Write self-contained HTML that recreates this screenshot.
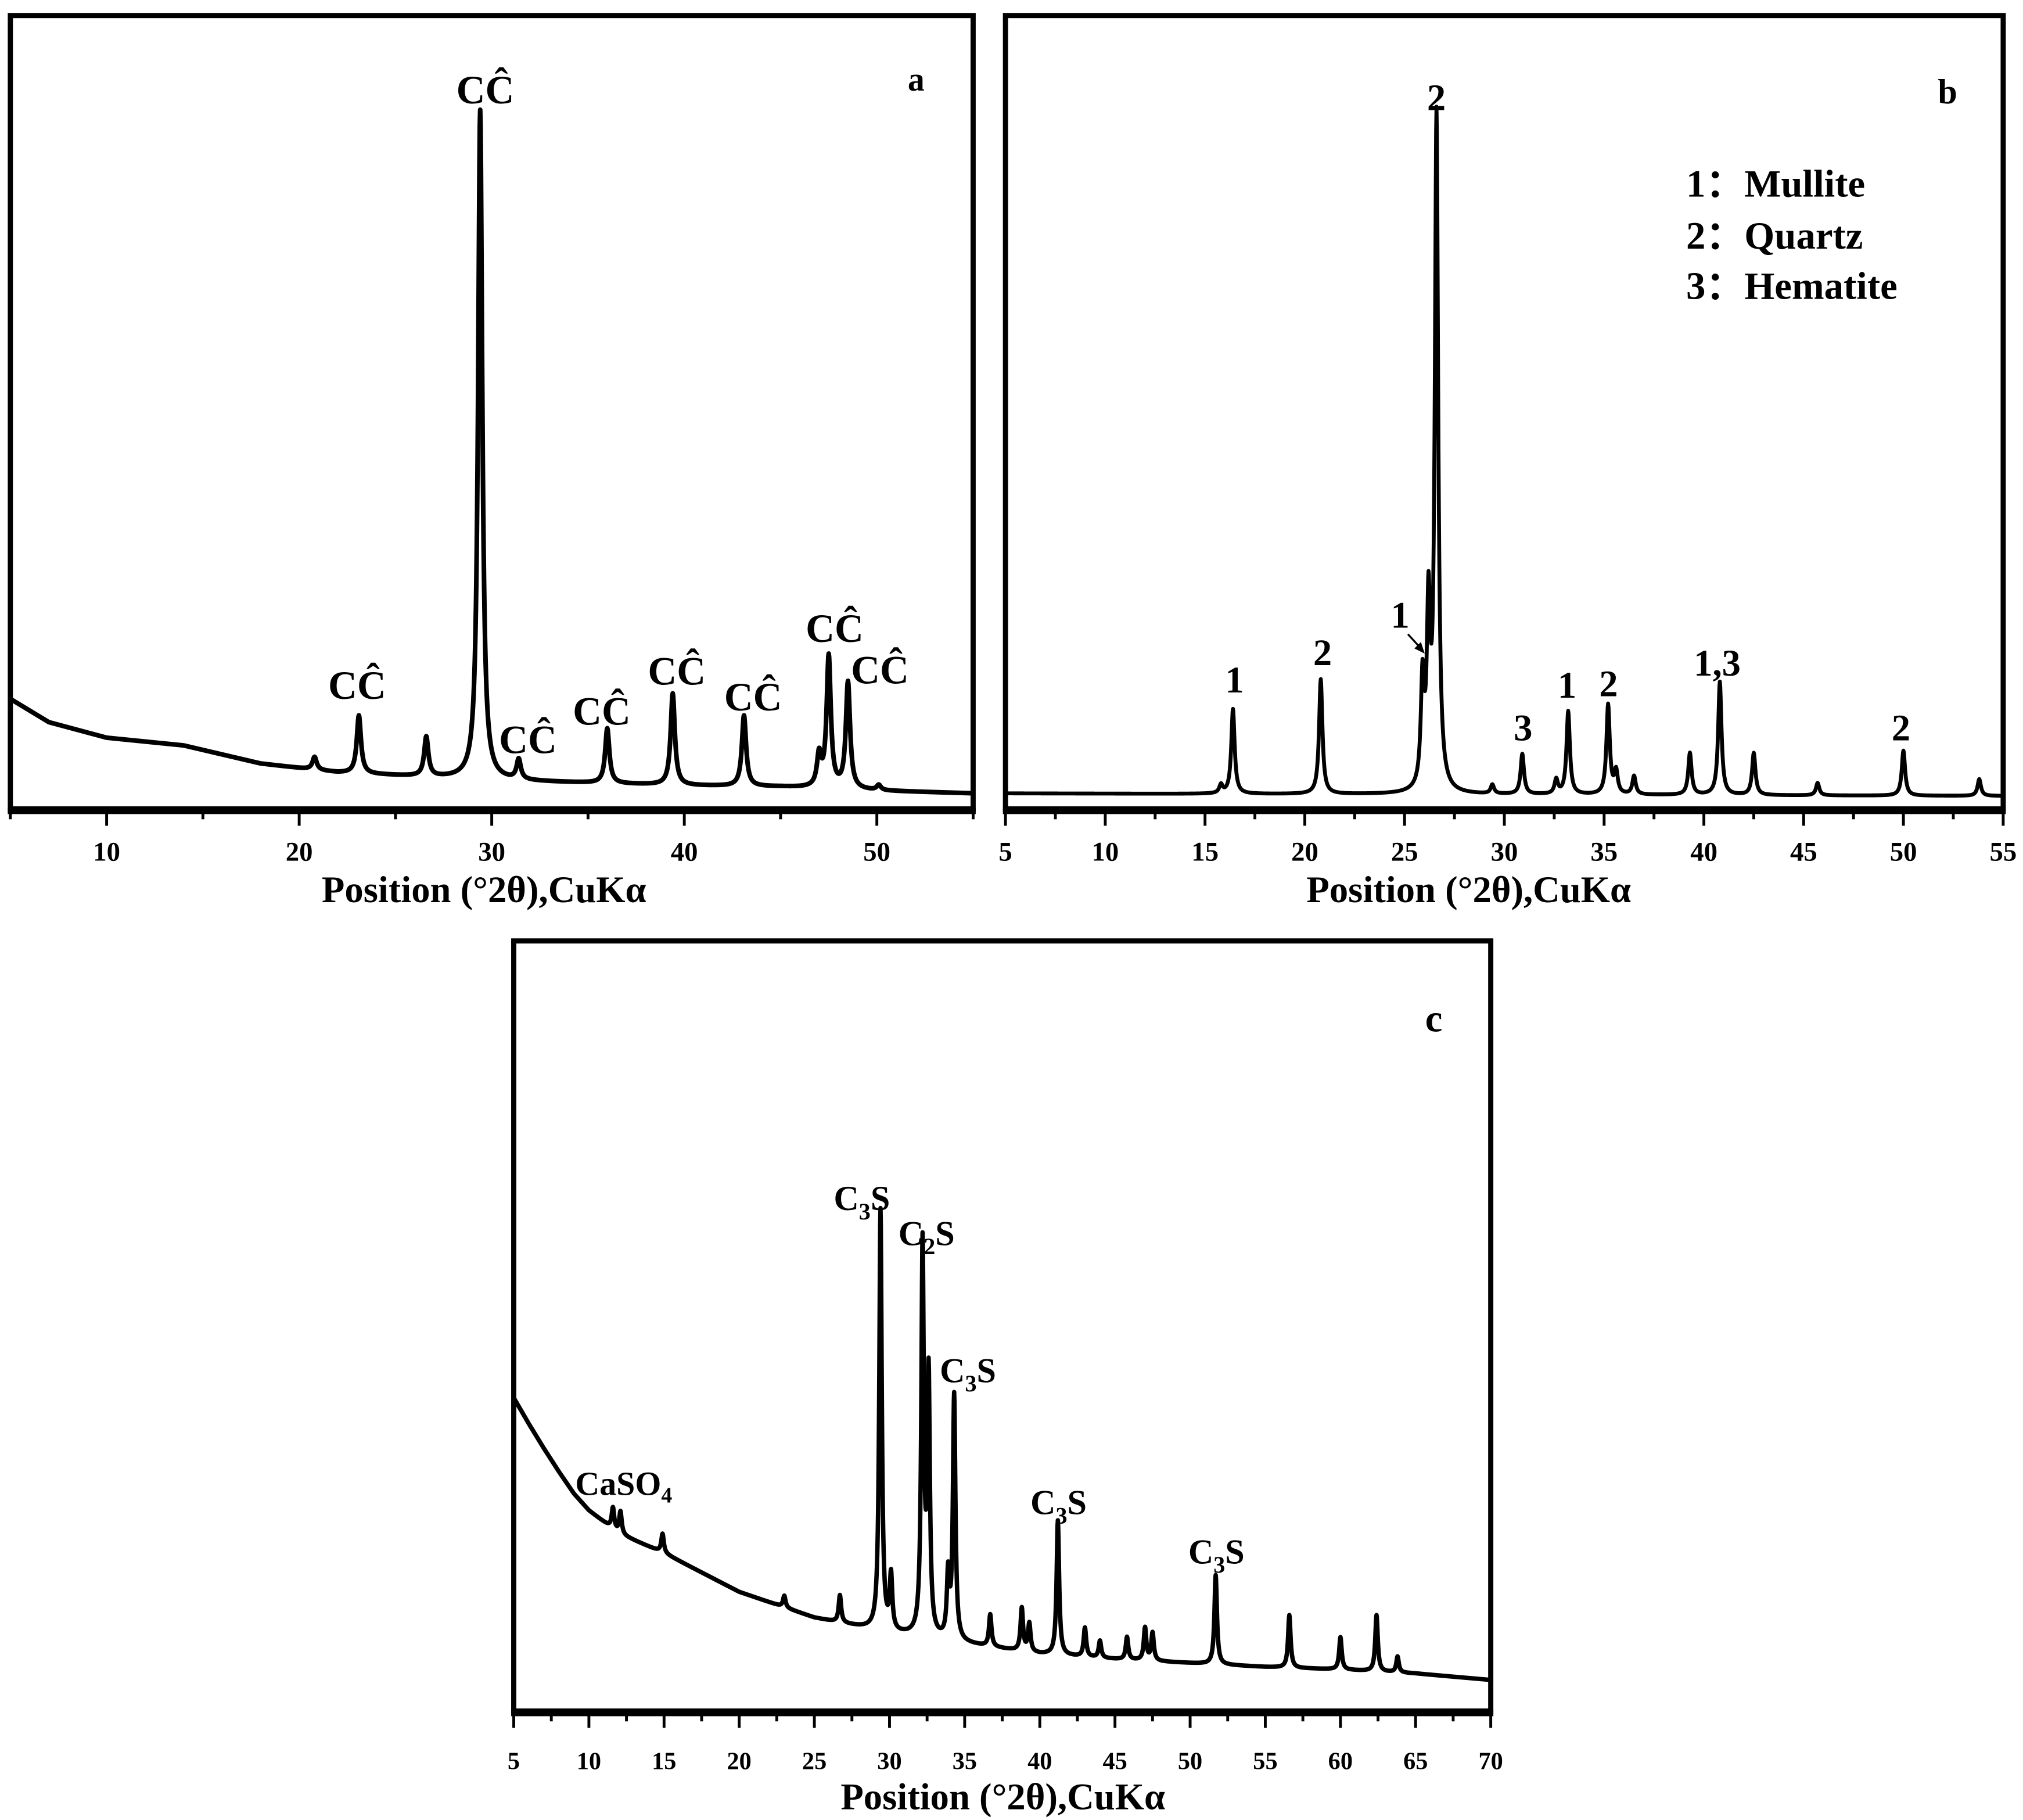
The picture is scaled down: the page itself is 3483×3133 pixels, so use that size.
<!DOCTYPE html>
<html><head><meta charset="utf-8"><style>
html,body{margin:0;padding:0;background:#fff}
svg{display:block}
text{font-family:"Liberation Serif",serif;font-weight:bold;fill:#000}
</style></head><body>
<svg id="fig" width="3483" height="3133" viewBox="0 0 1563.3 1406.2" preserveAspectRatio="none" xmlns="http://www.w3.org/2000/svg">
<rect width="1563.3" height="1406.2" fill="#fff"/>
</svg>
<script>
// ---------- Panel a data ----------
const aBaseX = [5,7,10,14,18,22,26,30,35,40,45,50,55];
const aBaseY = [85,67,55,49,35,28,25,22,20,18,17,14,12];
const aPeakPos = [20.8,23.1,26.6,29.4,31.4,36.0,39.4,43.1,47.0,47.5,48.5,50.1];
const aPeakTop = [40,72,55,540,37,62,89,72,40,117,97,18];
const aTicks = [10,20,30,40,50];
// ---------- Panel b data ----------
const bBaseX = [5,55];
const bBaseY = [12,10];
const bPeakPos = [15.8,16.4,20.8,25.9,26.2,26.6,29.4,30.9,32.6,33.2,35.2,35.6,36.5,39.3,40.8,42.5,45.7,50.0,53.8];
const bPeakTop = [18,77,100,92,145,533,18,42,22,75,80,28,25,43,98,43,20,45,23];
const bTicks = [5,10,15,20,25,30,35,40,45,50,55];
// ---------- Panel c data ----------
const cBaseX = [5,6,7,8,9,10,12,15,20,25,30,35,40,45,50,55,60,65,70];
const cBaseY = [242,222,203,185,168,155,137,122,92,72,60,52,44,40,37,34,32,29,24];
const cPeakPos = [11.6,12.1,14.9,23.0,26.7,29.4,30.1,32.2,32.6,33.9,34.3,36.7,38.8,39.3,41.2,43.0,44.0,45.8,47.0,47.5,51.7,56.6,60.0,62.4,63.8];
const cPeakTop = [157,154,137,89,89,387,102,357,254,102,242,74,79,67,147,64,54,57,64,60,105,74,57,74,42];
const cTicks = [5,10,15,20,25,30,35,40,45,50,55,60,65,70];

const NS = "http://www.w3.org/2000/svg";
const svg = document.getElementById('fig');
function mk(tag, attrs, parent){
  const e = document.createElementNS(NS, tag);
  for (const k in attrs) e.setAttribute(k, attrs[k]);
  (parent||svg).appendChild(e);
  return e;
}
function interp(xs, ys, x){
  if (x <= xs[0]) return ys[0];
  for (let i=1;i<xs.length;i++){ if (x <= xs[i]) { const t=(x-xs[i-1])/(xs[i]-xs[i-1]); return ys[i-1]+t*(ys[i]-ys[i-1]); } }
  return ys[ys.length-1];
}
function panel(cfg){
  const g = mk('g', {});
  
  
  const {L,R,T,B,xmin,xmax} = cfg;
  const xs = v => L + (v-xmin)/(xmax-xmin)*(R-L);
  const ys = v => B - v;
  const cid = cfg.name+'-clip';
  const cp = mk('clipPath', {id:cid}, g);
  mk('rect', {x:L, y:T, width:R-L, height:B-T}, cp);
  const amps = cfg.pos.map((p,i)=> cfg.top[i] - interp(cfg.bx, cfg.by, p));
  let d = '';
  for (let x = xmin; x <= xmax + 1e-9; x += 0.02){
    let v = interp(cfg.bx, cfg.by, x);
    for (let i=0;i<cfg.pos.length;i++){ const u=(x-cfg.pos[i])/cfg.hw; v += amps[i]/(1+u*u); }
    d += (d ? 'L' : 'M') + xs(x).toFixed(2) + ',' + ys(v).toFixed(2);
  }
  const path = mk('path', {d:d, fill:'none', stroke:'#000', 'stroke-width':cfg.sw, 'stroke-linejoin':'round', 'clip-path':'url(#'+cid+')'}, g);
  
  
  const fr = mk('rect', {x:L, y:T, width:R-L, height:B-T, fill:'none', stroke:'#000', 'stroke-width':4}, g);
  
  
  mk('line', {x1:L-2, x2:R+2, y1:B+1.5, y2:B+1.5, stroke:'#000', 'stroke-width':5}, g);
  const step = cfg.minor;
  for (let v = Math.ceil(xmin/step)*step; v <= xmax+1e-9; v += step){
    const major = cfg.ticks.some(t=>Math.abs(t-v)<1e-6);
    mk('line', {x1:xs(v), x2:xs(v), y1:B+3, y2:B+(major?13:8), stroke:'#000', 'stroke-width':2.2}, g);
  }
  cfg.ticks.forEach(t=>{
    const tx = mk('text', {x:xs(t), y:cfg.tickY, 'text-anchor':'middle', 'font-size':cfg.tickFs}, g);
    tx.textContent = t;
    
    
  });
  const tt = mk('text', {x:cfg.titleX, y:cfg.titleY, 'text-anchor':'middle', 'font-size':29}, g);
  tt.textContent = cfg.title;
  
  
  return {g, xs, ys};
}
function label(g, x, y, html, fs, name, fam){
  const t = mk('text', {x:x, y:y, 'text-anchor':'middle', 'font-size':fs}, g);
  if (fam) t.setAttribute('font-family', fam);
  t.innerHTML = html;
  
  
  return t;
}

// Panel a
const pa = panel({name:'panel-a', L:8, R:752, T:12, B:625, xmin:5, xmax:55, bx:aBaseX, by:aBaseY, pos:aPeakPos, top:aPeakTop, hw:0.13, sw:3.6, ticks:aTicks, minor:5, tickY:665, tickFs:21, title:'Position (°2θ),CuKα', titleX:374, titleY:697});
const CC = 'CĈ';
[[375,80],[276,540],[408,582],[465,560],[523,529],[582,549],[645,496],[680,528]].forEach(p=>label(pa.g,p[0],p[1],CC,31,'peak-label-calcite'));
label(pa.g,708,70,'a',26,'panel-label-a');

// Panel b
const pb = panel({name:'panel-b', L:777, R:1548, T:12, B:625, xmin:5, xmax:55, bx:bBaseX, by:bBaseY, pos:bPeakPos, top:bPeakTop, hw:0.1, sw:3, ticks:bTicks, minor:2.5, tickY:665, tickFs:21, title:'Position (°2θ),CuKα', titleX:1135, titleY:697});
[[1110,85,'2'],[954,535,'1'],[1022,514,'2'],[1082,485,'1'],[1177,572,'3'],[1211,539,'1'],[1243,538,'2'],[1327,522,'1,3'],[1469,572,'2']].forEach(p=>label(pb.g,p[0],p[1],p[2],29,'peak-label'));
mk('line',{x1:1088,y1:490,x2:1099,y2:502,stroke:'#000','stroke-width':1.5},pb.g);
mk('path',{d:'M1101,505 L1093,501 L1098,496 Z',fill:'#000'},pb.g);
label(pb.g,1505,80,'b',27,'panel-label-b');
[['1：Mullite',152],['2：Quartz',192],['3：Hematite',231]].forEach(l=>{
  const t = mk('text',{x:1303,y:l[1],'font-size':30,'font-family':'"Liberation Serif","Noto Serif CJK SC",serif'},pb.g);
  t.textContent = l[0];
  
  
});

// Panel c
const pc = panel({name:'panel-c', L:397, R:1152, T:727, B:1322, xmin:5, xmax:70, bx:cBaseX, by:cBaseY, pos:cPeakPos, top:cPeakTop, hw:0.1, sw:3.4, ticks:cTicks, minor:2.5, tickY:1367, tickFs:19, title:'Position (°2θ),CuKα', titleX:775, titleY:1398});
const c3s = 'C<tspan font-size="18" dy="7">3</tspan><tspan dy="-7">S</tspan>';
const c2s = 'C<tspan font-size="18" dy="7">2</tspan><tspan dy="-7">S</tspan>';
label(pc.g,666,935,c3s,27,'peak-label-c3s');
label(pc.g,716,962,c2s,27,'peak-label-c2s');
label(pc.g,748,1068,c3s,27,'peak-label-c3s');
label(pc.g,818,1170,c3s,27,'peak-label-c3s');
label(pc.g,940,1208,c3s,27,'peak-label-c3s');
label(pc.g,482,1155,'CaSO<tspan font-size="17" dy="6">4</tspan>',26,'peak-label-caso4');
label(pc.g,1108,797,'c',30,'panel-label-c','"Liberation Sans",sans-serif');
</script>
</body></html>
